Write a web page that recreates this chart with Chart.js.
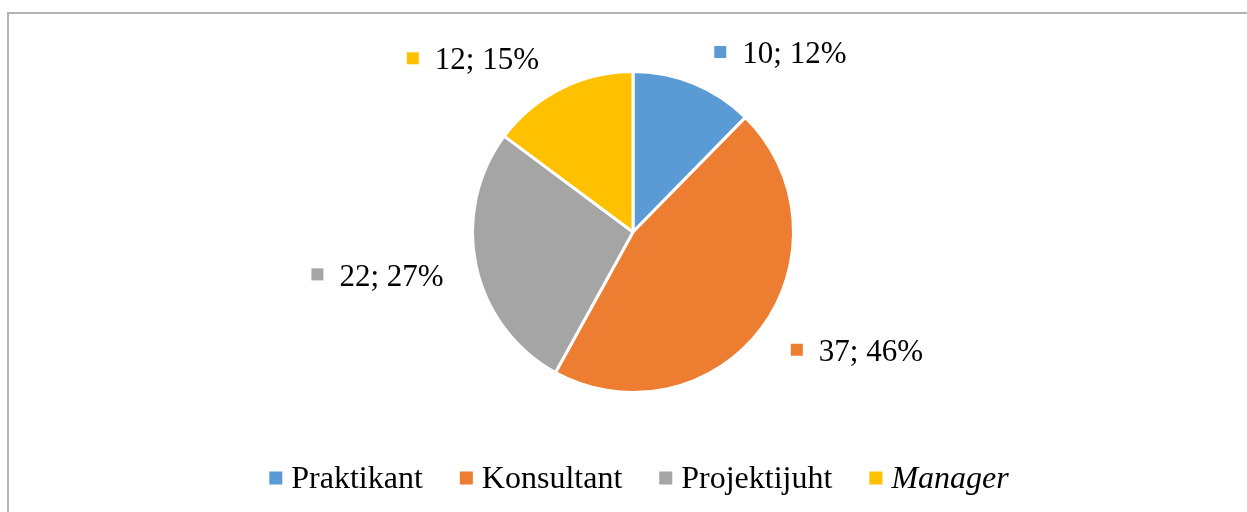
<!DOCTYPE html>
<html>
<head>
<meta charset="utf-8">
<script src="https://cdn.jsdelivr.net/npm/chart.js@4"></script>
<style>
  html, body { margin: 0; padding: 0; background: #fff; }
  #wrap { position: relative; width: 1247px; height: 512px; }
  #frame { position: absolute; left: 7px; top: 12px; right: -5px; bottom: -5px;
           border-left: 2px solid #b3b3b3; border-top: 2px solid #b3b3b3; }
  canvas { position: absolute; left: 0; top: 0; }
</style>
</head>
<body>
<div id="wrap">
  <div id="frame"></div>
  <canvas id="pie-chart" width="1247" height="512"></canvas>
</div>
<script>
var categories = ['Praktikant', 'Konsultant', 'Projektijuht', 'Manager'];
var counts = [10, 37, 22, 12];
var sliceColors = ['#5B9BD5', '#ED7D31', '#A5A5A5', '#FFC000'];

var FONT = '"Liberation Serif", "Times New Roman", serif';

// value labels like "10; 12%" outside of each slice
var outsideLabels = {
  id: 'outsideLabels',
  afterDatasetsDraw: function(chart) {
    var ctx = chart.ctx;
    var meta = chart.getDatasetMeta(0);
    var data = chart.data.datasets[0].data;
    var total = data.reduce(function(a, b) { return a + b; }, 0);
    ctx.save();
    ctx.font = '31px ' + FONT;
    ctx.textBaseline = 'middle';
    meta.data.forEach(function(arc, i) {
      var p = arc.getProps(['x', 'y', 'startAngle', 'endAngle', 'outerRadius'], true);
      var mid = (p.startAngle + p.endAngle) / 2;
      var dx = Math.cos(mid), dy = Math.sin(mid);
      var r = p.outerRadius + 20;
      var text = data[i] + '; ' + Math.round(data[i] / total * 100) + '%';
      var box = 12, gap = 16, h = 30;
      var w = box + gap + ctx.measureText(text).width;
      var cx = p.x + dx * r + (dx >= 0 ? 1 : -1) * (w / 2 + 13);
      var cy = p.y + dy * (r + h / 2) + 3;
      var left = cx - w / 2;
      ctx.fillStyle = chart.data.datasets[0].backgroundColor[i];
      ctx.fillRect(left, cy - box / 2 - 2, box, box);
      ctx.fillStyle = '#000';
      ctx.textAlign = 'left';
      ctx.fillText(text, left + box + gap, cy + 1);
    });
    ctx.restore();
  }
};

// bottom legend, drawn by hand so one entry can be italic
var bottomLegend = {
  id: 'bottomLegend',
  afterDraw: function(chart, args, opts) {
    var ctx = chart.ctx;
    var labels = chart.data.labels;
    var colors = chart.data.datasets[0].backgroundColor;
    var box = 13, gap = 9, spacing = 37;
    ctx.save();
    ctx.textBaseline = 'middle';
    var widths = labels.map(function(l, i) {
      ctx.font = (opts.italic[i] ? 'italic ' : '') + '32px ' + FONT;
      return box + gap + ctx.measureText(l).width;
    });
    var total = widths.reduce(function(a, b) { return a + b; }, 0) + spacing * (labels.length - 1);
    var x = opts.centerX - total / 2;
    var y = opts.y;
    labels.forEach(function(l, i) {
      ctx.fillStyle = colors[i];
      ctx.fillRect(x, y - box / 2, box, box);
      ctx.font = (opts.italic[i] ? 'italic ' : '') + '32px ' + FONT;
      ctx.fillStyle = '#000';
      ctx.textAlign = 'left';
      ctx.fillText(l, x + box + gap, y + 2);
      x += widths[i] + spacing;
    });
    ctx.restore();
  }
};

new Chart(document.getElementById('pie-chart'), {
  type: 'pie',
  data: {
    labels: categories,
    datasets: [{
      data: counts,
      backgroundColor: sliceColors,
      borderColor: '#ffffff',
      borderWidth: 3
    }]
  },
  options: {
    responsive: false,
    animation: false,
    layout: {
      padding: { top: 70, bottom: 118, left: 19, right: 0 }
    },
    plugins: {
      legend: { display: false },
      tooltip: { enabled: false },
      bottomLegend: { centerX: 639, y: 478, italic: [false, false, false, true] }
    }
  },
  plugins: [outsideLabels, bottomLegend]
});
</script>
</body>
</html>
